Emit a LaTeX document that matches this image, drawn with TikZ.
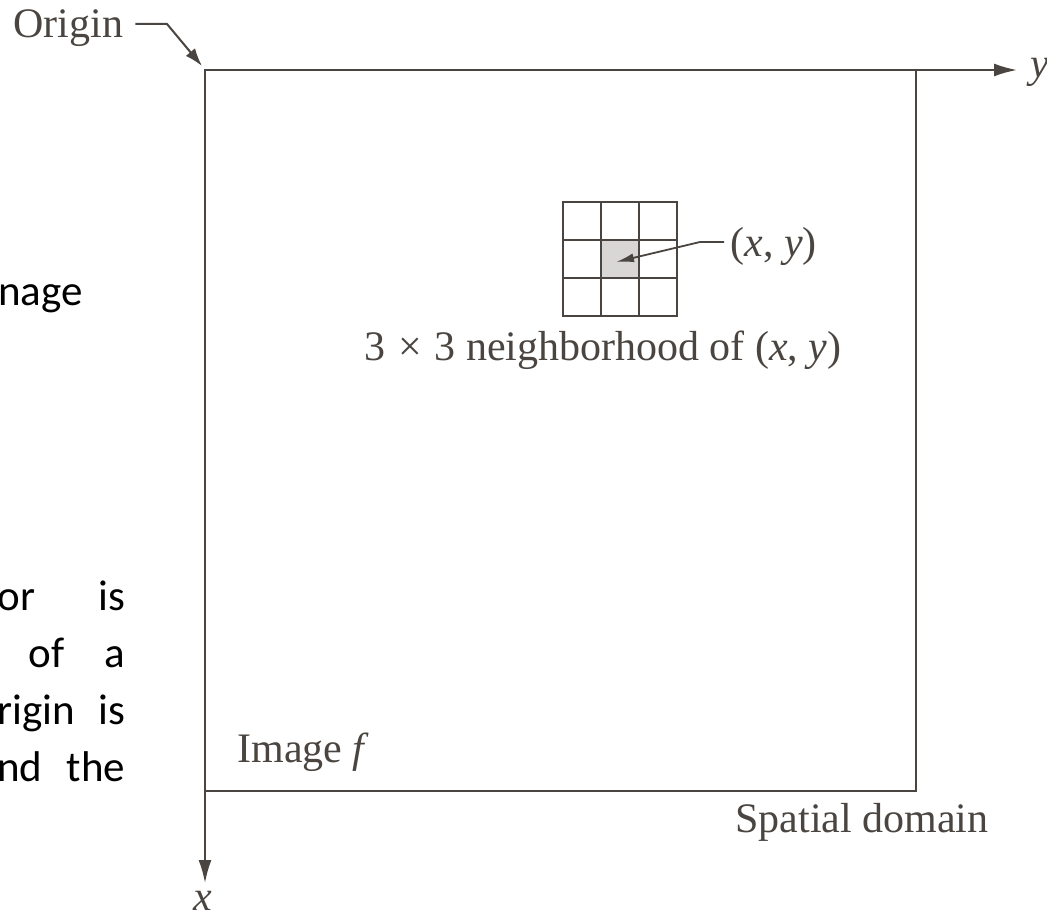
\documentclass[tikz,border=0pt]{standalone}
\usepackage{fontspec}
\setmainfont{Liberation Serif}
\newfontfamily\slidefont{Carlito}
\usetikzlibrary{arrows.meta, positioning, calc}
\definecolor{inkgray}{RGB}{74, 69, 64}
\definecolor{cellgray}{RGB}{216, 215, 213}

\begin{document}
\begin{tikzpicture}[x=0.5pt, y=-0.5pt,
        lbl/.style={inner sep=0pt, text=inkgray, font=\fontsize{21}{25}\selectfont},
        frag/.style={inner sep=0pt, anchor=base west, font=\slidefont\fontsize{21.5}{26}\selectfont},
        axis/.style={inkgray, line width=1pt, -{Latex[length=11.5pt, width=6.5pt]}},
        frame/.style={inkgray, line width=1.3pt},
        cellbox/.style={draw=inkgray, line width=0.9pt, minimum size=19pt, inner sep=0pt},
        ptr/.style={inkgray, line width=0.9pt, -{Latex[length=9pt, width=4.5pt]}}
      ]
        \useasboundingbox (0,0) rectangle (1047,920);
        % image frame and axes
        \coordinate (o) at (205,70);
        \coordinate (yend) at (1017,70);
        \coordinate (xend) at (205,883);
        \draw[frame] (o) rectangle (916,791);
        \draw[axis] (o) -- (yend);
        \draw[axis] (o) -- (xend);
        \node[lbl, anchor=base west] (ylab) at (1030,77) {\textit{y}};
        \node[lbl, anchor=base] (xlab) at (203,910) {\textit{x}};
        % origin
        \node[lbl, anchor=base west] (orig) at (13,38) {Origin};
        \draw[inkgray, line width=1pt, -{Latex[length=9pt, width=6pt]}]
          ([xshift=6pt]orig.east |- 0,24) -- (167,24) -- (202,66);
        % 3x3 neighborhood
        \foreach \i in {0,1,2} \foreach \j in {0,1,2} {
          \node[cellbox] (c\i\j) at (582+38*\i, 221+38*\j) {};
        }
        \node[cellbox, fill=cellgray] at (c11) {};
        \node[lbl, anchor=base west] (xy) at (730,256) {(\textit{x}, \textit{y})};
        \coordinate (bend) at (700,242);
        \draw[ptr] ([xshift=-3pt]xy.west |- bend) -- (bend) -- ([shift={(-2pt,-1.5pt)}]c11.center);
        \node[lbl, anchor=base east] (nbh) at (842,360) {3\hspace{0.3em}×\hspace{0.3em}3 neighborhood of (\textit{x}, \textit{y})};
        \node[lbl, anchor=base west] (imgf) at (237,762) {Image \textit{f}};
        \node[lbl, anchor=base west] (dom) at (735,832) {Spatial domain};
        % cut-off slide text
        \node[frag] (t1) at (-2,305) {nage};
        \node[frag] (t2) at (-3,610) {\makebox[64pt][l]{or\hfill is}};
        \node[frag] (t3) at (-3,667) {\makebox[64pt][l]{\hspace{15.5pt}of\hfill a}};
        \node[frag] (t4) at (-3,724) {\makebox[64pt][l]{rigin\hfill is}};
        \node[frag] (t5) at (-3,781) {\makebox[64pt][l]{nd\hfill the}};
      \end{tikzpicture}
\end{document}
